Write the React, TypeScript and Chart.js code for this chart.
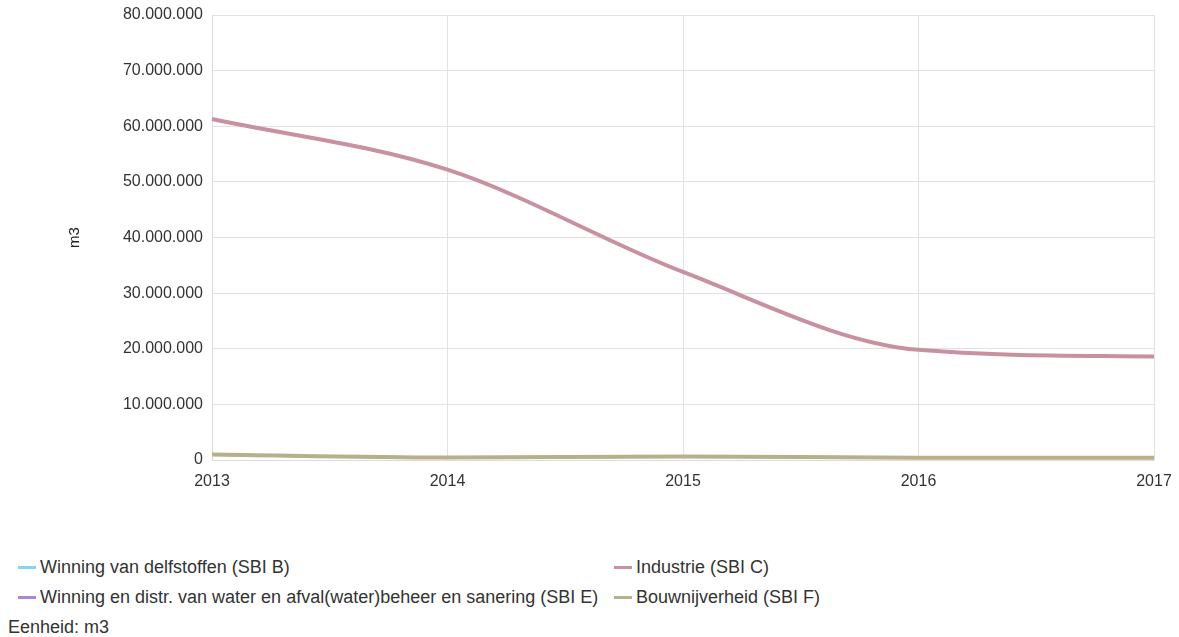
import React, { useEffect, useRef } from "react";
import { Chart, registerables } from "chart.js";

Chart.register(...registerables);

const years = ["2013", "2014", "2015", "2016", "2017"];
const winningDelfstoffen = [900000, 400000, 550000, 350000, 350000];
const industrie = [61300000, 52200000, 33800000, 19800000, 18600000];
const waterAfval = [950000, 400000, 600000, 350000, 350000];
const bouwnijverheid = [1000000, 450000, 650000, 400000, 400000];

const seriesNames = [
  "Winning van delfstoffen (SBI B)",
  "Industrie (SBI C)",
  "Winning en distr. van water en afval(water)beheer en sanering (SBI E)",
  "Bouwnijverheid (SBI F)",
];
const seriesColors = ["#86d3f5", "#c8919f", "#a985dd", "#b7b08a"];
const lineWidths = [2, 4, 2, 4];
const drawOrder = [3, 1, 2, 0];
const yTicks = [0, 10000000, 20000000, 30000000, 40000000, 50000000, 60000000, 70000000, 80000000];
const unitLabel = "Eenheid: m3";
const yTitle = "m3";

const FONT = "'Liberation Sans', Arial, sans-serif";

function fmt(v: number) {
  return String(Math.round(v)).replace(/\B(?=(\d{3})+(?!\d))/g, ".");
}

export default function App() {
  const ref = useRef<HTMLCanvasElement | null>(null);
  useEffect(() => {
    if (!ref.current) return;
    const values = [winningDelfstoffen, industrie, waterAfval, bouwnijverheid];
    const chart = new Chart(ref.current, {
      type: "line",
      data: {
        labels: years,
        datasets: values.map((d, i) => ({
          label: seriesNames[i],
          data: d,
          order: drawOrder[i],
          borderColor: seriesColors[i],
          backgroundColor: seriesColors[i],
          borderWidth: lineWidths[i],
          pointRadius: 0,
          cubicInterpolationMode: "monotone" as const,
          fill: false,
        })),
      },
      options: {
        animation: false,
        responsive: false,
        maintainAspectRatio: false,
        layout: { padding: { left: 66, top: 15, right: 25, bottom: 0 } },
        plugins: { legend: { display: false }, tooltip: { enabled: false } },
        scales: {
          x: {
            offset: false,
            grid: { color: "#e2e2e2", drawTicks: false, lineWidth: 1 },
            border: { color: "#dcdcdc" },
            ticks: { color: "#333", font: { family: FONT, size: 16 }, padding: 12, maxRotation: 0 },
            afterFit: (s: any) => {
              s.height = 40;
              s.paddingLeft = 0;
              s.paddingRight = 0;
            },
          },
          y: {
            min: 0,
            max: 80000000,
            afterBuildTicks: (s: any) => {
              s.ticks = yTicks.map((v) => ({ value: v }));
            },
            grid: { color: "#e2e2e2", drawTicks: false, lineWidth: 1 },
            border: { color: "#dcdcdc" },
            ticks: {
              color: "#333",
              font: { family: FONT, size: 16 },
              padding: 9,
              callback: (v: any) => fmt(Number(v)),
            },
            title: { display: true, text: yTitle, color: "#222", font: { family: FONT, size: 15 }, padding: 0 },
            afterFit: (s: any) => {
              s.width = 146;
              s.paddingTop = 0;
              s.paddingBottom = 0;
            },
          },
        },
      },
    });
    return () => chart.destroy();
  }, []);

  const legendText: React.CSSProperties = {
    fontFamily: FONT,
    fontSize: 18,
    color: "#333",
    whiteSpace: "nowrap",
  };
  const item = (i: number, left: number, top: number) => (
    <div key={i} style={{ position: "absolute", left, top, display: "flex", alignItems: "center", height: 20 }}>
      <span style={{ display: "inline-block", width: 18, height: 3, background: seriesColors[i], marginRight: 4 }} />
      <span style={legendText}>{seriesNames[i]}</span>
    </div>
  );

  return (
    <div style={{ position: "absolute", left: 0, top: 0, width: 1179, height: 637, overflow: "hidden", background: "#fff" }}>
      <canvas ref={ref} width={1179} height={500} style={{ display: "block", position: "absolute", left: 0, top: 0 }} />
      {item(0, 18, 557)}
      {item(1, 614, 557)}
      {item(2, 18, 587)}
      {item(3, 614, 587)}
      <div style={{ position: "absolute", left: 8, top: 617, height: 20, display: "flex", alignItems: "center", ...legendText }}>
        {unitLabel}
      </div>
    </div>
  );
}
